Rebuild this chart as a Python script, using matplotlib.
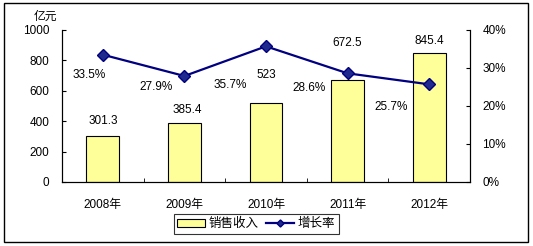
import matplotlib
matplotlib.use("Agg")
import matplotlib.pyplot as plt
from matplotlib.patches import Rectangle

plt.rcParams['font.family'] = ['Liberation Sans', 'Noto Sans CJK SC']
plt.rcParams['font.size'] = 8.5

years = ["2008年", "2009年", "2010年", "2011年", "2012年"]
sales = [301.3, 385.4, 523, 672.5, 845.4]
growth = [33.5, 27.9, 35.7, 28.6, 25.7]
sales_labels = ["301.3", "385.4", "523", "672.5", "845.4"]
growth_labels = ["33.5%", "27.9%", "35.7%", "28.6%", "25.7%"]

# label offsets in pixels, picked to sit where the original has them
sales_off = [(0, 15), (3, 13), (0, 28), (0, 37), (0, 12)]
growth_off = [(-14, -20), (-28, -11), (-36, -39), (-39, -15), (-38, -23)]

fig = plt.figure(figsize=(5.33, 2.46), dpi=100)
ax = fig.add_axes([62/533, 1-182/246, 408/533, 152/246])
ax2 = ax.twinx()

x = list(range(len(years)))
bars = ax.bar(x, sales, width=0.4, color="#FFFF99", edgecolor="black", linewidth=0.8,
              label="销售收入", zorder=2)
line, = ax2.plot(x, growth, color="#000080", lw=1.6, marker="D", ms=6,
                 markerfacecolor="#1F2A8C", markeredgecolor="#000080", label="增长率")

ax.set_xlim(-0.5, 4.5)
ax.set_ylim(0, 1000)
ax.set_yticks(range(0, 1001, 200))
ax2.set_ylim(0, 40)
ax2.set_yticks(range(0, 41, 10))
ax2.set_yticklabels([f"{v}%" for v in range(0, 41, 10)])

ax.set_xticks(x)
ax.set_xticklabels(years)
ax.set_xticks([i + 0.5 for i in x[:-1]], minor=True)
ax.tick_params(axis='x', which='major', length=0, pad=12)
ax.tick_params(axis='x', which='minor', direction='in', length=3)
ax.tick_params(axis='y', direction='in', length=3, pad=9)
ax2.tick_params(axis='y', direction='in', length=3, pad=9)

for a in (ax, ax2):
    a.spines['top'].set_visible(False)
    for s in a.spines.values():
        s.set_linewidth(0.8)

for i, (v, t) in enumerate(zip(sales, sales_labels)):
    ax.annotate(t, (i, v), xytext=sales_off[i], textcoords='offset pixels',
                ha='center', va='center')
for i, (v, t) in enumerate(zip(growth, growth_labels)):
    ax2.annotate(t, (i, v), xytext=growth_off[i], textcoords='offset pixels',
                 ha='center', va='center')

fig.text(45/533, 1-17/246, "亿元", ha='center', va='center')

leg = fig.legend([bars, line], ["销售收入", "增长率"], loc='center',
                 bbox_to_anchor=(256/533, 1-224/246), ncol=2, frameon=True,
                 fancybox=False, edgecolor='black', handlelength=2.2,
                 handleheight=0.6, columnspacing=0.6, handletextpad=0.3,
                 borderpad=0.3, fontsize=9, markerscale=0.6)
leg.get_frame().set_linewidth(0.8)

fig.patches.append(Rectangle((4/533, 1-242/246), 524/533, 239/246,
                             transform=fig.transFigure, fill=False,
                             edgecolor='black', linewidth=1))

fig.savefig("out.png", dpi=100)
